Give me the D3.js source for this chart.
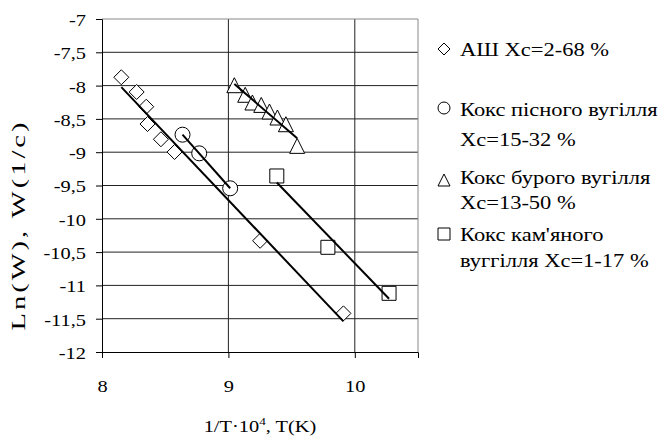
<!DOCTYPE html>
<html>
<head>
<meta charset="utf-8">
<script src="https://cdn.jsdelivr.net/npm/d3@7"></script>
<style>
  html, body { margin: 0; padding: 0; background: #fff; }
  svg text { font-family: "Liberation Serif", "Times New Roman", serif; fill: #000; }
</style>
</head>
<body>
<svg id="chart" width="660" height="439"></svg>
<script>
// Rate data: ln(W) against 1/T·10^4 for four fuels
const ashX = [8.153, 8.274, 8.35, 8.36, 8.466, 8.574, 9.251, 9.91];
const ashY = [-7.875, -8.096, -8.317, -8.577, -8.806, -8.997, -10.33, -11.42];

const leanCokeX = [8.637, 8.769, 9.014];
const leanCokeY = [-8.737, -9.017, -9.542];

const brownCokeX = [9.047, 9.133, 9.19, 9.26, 9.325, 9.388, 9.455, 9.544];
const brownCokeY = [-7.994, -8.138, -8.254, -8.29, -8.389, -8.479, -8.58, -8.905];

const hardCokeX = [9.383, 9.787, 10.271];
const hardCokeY = [-9.357, -10.428, -11.119];

const xTicks = [8, 9, 10];
const yTicks = [-7, -7.5, -8, -8.5, -9, -9.5, -10, -10.5, -11, -11.5, -12];

const legendLines = [
  ["АШ Хс=2-68 %"],
  ["Кокс пісного вугілля", "Хс=15-32 %"],
  ["Кокс бурого вугілля", "Хс=13-50 %"],
  ["Кокс кам'яного", "вуггілля Хс=1-17 %"]
];

(function () {
const svg = d3.select("#chart");
const pLeft = 102, pRight = 418, pTop = 19, pBottom = 352;
const SX = 1.2;        // horizontal widening of the serif type
const FS = 17;

const x = d3.scaleLinear().domain([8, 10.5]).range([pLeft, pRight]);
const y = d3.scaleLinear().domain([-12, -7]).range([pBottom, pTop]);

const fmt = v => String(v).replace(".", ",");

// Gridlines
const grid = svg.append("g");
grid.selectAll("line.h").data(yTicks.filter(v => v > -12 && v < -7)).join("line")
  .attr("class", "h")
  .attr("x1", pLeft).attr("x2", pRight)
  .attr("y1", d => y(d)).attr("y2", d => y(d))
  .attr("stroke", "#222").attr("stroke-width", 1);
grid.selectAll("line.v").data(xTicks.filter(v => v > 8)).join("line")
  .attr("class", "v")
  .attr("x1", d => x(d)).attr("x2", d => x(d))
  .attr("y1", pTop).attr("y2", pBottom)
  .attr("stroke", "#222").attr("stroke-width", 1);

// Plot frame (top and right)
svg.append("line").attr("x1", pLeft).attr("x2", pRight).attr("y1", pTop).attr("y2", pTop)
  .attr("stroke", "#888");
svg.append("line").attr("x1", pRight).attr("x2", pRight).attr("y1", pTop).attr("y2", pBottom)
  .attr("stroke", "#888");

// Axes
const yAxis = d3.axisLeft(y).tickValues(yTicks).tickSize(6).tickFormat(fmt);
const gy = svg.append("g").attr("transform", `translate(${pLeft},0)`).call(yAxis);
const xAxis = d3.axisBottom(x).tickValues(xTicks).tickSize(6).tickFormat(d => d);
const gx = svg.append("g").attr("transform", `translate(0,${pBottom})`).call(xAxis);
[gx, gy].forEach(g => {
  g.select(".domain").attr("stroke", "#000").attr("stroke-width", 1);
  g.selectAll(".tick line").attr("stroke", "#000");
  g.selectAll(".tick text").attr("font-size", FS)
    .attr("font-family", "Liberation Serif, serif").attr("fill", "#000")
    .attr("transform", `scale(${SX},1)`);
});
gy.selectAll(".tick text").attr("x", -16 / SX).attr("dy", "0.38em");
gx.selectAll(".tick text").attr("y", 40).attr("dy", null);

// Least-squares trend line over the range of a series
function trend(xs, ys) {
  const n = xs.length;
  const mx = d3.mean(xs), my = d3.mean(ys);
  let sxy = 0, sxx = 0;
  for (let i = 0; i < n; i++) { sxy += (xs[i] - mx) * (ys[i] - my); sxx += (xs[i] - mx) ** 2; }
  const b = sxy / sxx, a = my - b * mx;
  const x0 = d3.min(xs), x1 = d3.max(xs);
  return [[x0, a + b * x0], [x1, a + b * x1]];
}

const series = [
  { xs: ashX, ys: ashY, shape: "diamond" },
  { xs: leanCokeX, ys: leanCokeY, shape: "circle" },
  { xs: brownCokeX, ys: brownCokeY, shape: "triangle" },
  { xs: hardCokeX, ys: hardCokeY, shape: "square" }
];

function markerPath(shape, s) {
  const h = s / 2;
  if (shape === "diamond") return `M0,${-h}L${h},0L0,${h}L${-h},0Z`;
  if (shape === "square") return `M${-h},${-h}H${h}V${h}H${-h}Z`;
  if (shape === "triangle") return `M0,${-h}L${h},${h}L${-h},${h}Z`;
  return `M${h},0A${h},${h} 0 1,1 ${-h},0A${h},${h} 0 1,1 ${h},0Z`;
}

const markerSize = { diamond: 15, circle: 15, triangle: 15, square: 14 };

series.forEach(s => {
  const pts = s.xs.map((v, i) => [v, s.ys[i]]);
  const g = svg.append("g");
  g.selectAll("path.m").data(pts).join("path")
    .attr("class", "m")
    .attr("transform", d => `translate(${x(d[0])},${y(d[1])})`)
    .attr("d", markerPath(s.shape, markerSize[s.shape]))
    .attr("fill", "#fff").attr("stroke", "#000").attr("stroke-width", 1);
});

// Trend lines drawn over the markers
series.forEach(s => {
  const t = trend(s.xs, s.ys);
  svg.append("line")
    .attr("x1", x(t[0][0])).attr("y1", y(t[0][1]))
    .attr("x2", x(t[1][0])).attr("y2", y(t[1][1]))
    .attr("stroke", "#000").attr("stroke-width", 2);
});

// Widened text placed at (px, py)
function wideText(parent, px, py, anchor, size, sx) {
  return parent.append("g").attr("transform", `translate(${px},${py}) scale(${sx || SX},1)`)
    .append("text").attr("text-anchor", anchor).attr("font-size", size || FS);
}

// Axis titles
const xt = wideText(svg, (pLeft + pRight) / 2, 432, "middle");
xt.append("tspan").text("1/T·10");
xt.append("tspan").attr("font-size", 11).attr("dy", -7).text("4");
xt.append("tspan").attr("dy", 7).text(", T(K)");

svg.append("g").attr("transform", "translate(25,225) rotate(-90) scale(1.5,1)")
  .append("text").attr("text-anchor", "middle").attr("font-size", 19)
  .attr("letter-spacing", 2)
  .text("Ln(W), W(1/c)");

// Legend
const legendY = [[49.5], [109.5, 139.5], [177.5, 202.5], [234.5, 261]];
const symbolY = [49, 108, 180, 234];
const lg = svg.append("g");
series.forEach((s, i) => {
  lg.append("path")
    .attr("transform", `translate(444,${symbolY[i]})`)
    .attr("d", markerPath(s.shape, 12))
    .attr("fill", "none").attr("stroke", "#000").attr("stroke-width", 1);
  legendLines[i].forEach((line, j) => {
    wideText(lg, 460, legendY[i][j], "start", 18, 1.25).attr("dy", "0.35em").text(line);
  });
});
})();
</script>
</body>
</html>
